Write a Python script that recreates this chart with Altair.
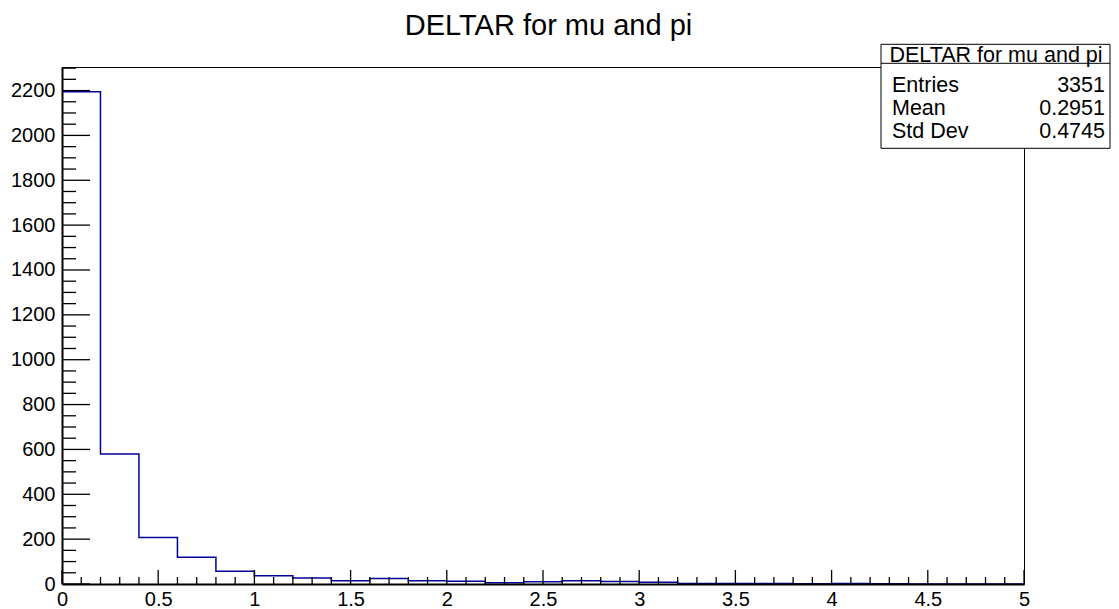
import altair as alt
import pandas as pd

FONT = "Liberation Sans"

title_text = "DELTAR for mu and pi"
bin_left_edges = [0.0, 0.2, 0.4, 0.6, 0.8, 1.0, 1.2, 1.4, 1.6, 1.8, 2.0, 2.2, 2.4,
                  2.6, 2.8, 3.0, 3.2, 3.4, 3.6, 3.8, 4.0, 4.2, 4.4, 4.6, 4.8]
x_max = 5.0
counts = [2195, 580, 207, 119, 57, 37, 27, 15, 24, 15, 12, 6, 10, 14, 11, 8,
          2, 2, 2, 1, 2, 1, 0, 0, 0]
y_max = 2305

stat_labels = ["Entries", "Mean", "Std Dev"]
stat_values = ["3351", "0.2951", "0.4745"]

y_major = [0, 200, 400, 600, 800, 1000, 1200, 1400, 1600, 1800, 2000, 2200]
y_minor = [v for v in range(50, 2301, 50) if v % 200 != 0]
x_major = [0, 0.5, 1, 1.5, 2, 2.5, 3, 3.5, 4, 4.5, 5]
x_minor = [round(i * 0.1, 1) for i in range(1, 50) if i % 5 != 0]

W, H = 962, 517

hist_df = pd.DataFrame({"x": bin_left_edges + [x_max], "y": counts + [counts[-1]]})

xscale = alt.Scale(domain=[0, x_max], nice=False, zero=False)
yscale = alt.Scale(domain=[0, y_max], nice=False)

xaxis = alt.Axis(
    values=x_major, format="~g", title=None, ticks=False, grid=False,
    labelFontSize=20, labelFont=FONT, labelColor="black", labelPadding=5,
    labelFlush=False, labelOverlap=False, domainColor="black", domainWidth=2,
    zindex=1)
yaxis = alt.Axis(
    values=y_major, format="d", title=None, ticks=False, grid=False,
    labelFontSize=20, labelFont=FONT, labelColor="black", labelPadding=7,
    labelOverlap=False, domainColor="black", domainWidth=2, zindex=1)

X = alt.X("x:Q", scale=xscale, axis=xaxis)
Y = alt.Y("y:Q", scale=yscale, axis=yaxis)

hist = alt.Chart(hist_df).mark_line(
    interpolate="step-after", color="#000099", strokeWidth=1.5
).encode(x=X, y=Y)

ymaj = alt.Chart(pd.DataFrame({"y": y_major})).mark_rule(color="black", strokeWidth=1.3).encode(
    y=Y, x=alt.value(0), x2=alt.value(28))
ymin = alt.Chart(pd.DataFrame({"y": y_minor})).mark_rule(color="black", strokeWidth=1.3).encode(
    y=Y, x=alt.value(0), x2=alt.value(14))
xmaj = alt.Chart(pd.DataFrame({"x": x_major})).mark_rule(color="black", strokeWidth=1.3).encode(
    x=X, y=alt.value(H), y2=alt.value(H - 14))
xmin = alt.Chart(pd.DataFrame({"x": x_minor})).mark_rule(color="black", strokeWidth=1.3).encode(
    x=X, y=alt.value(H), y2=alt.value(H - 7))

one = pd.DataFrame({"t": [title_text]})

title = alt.Chart(one).mark_text(
    align="center", baseline="alphabetic", fontSize=29, font=FONT, color="black"
).encode(text="t:N", x=alt.value(486.5), y=alt.value(-32.3))

BX0, BX1 = 819, 1048
box = alt.Chart(one).mark_rect(fill="white", stroke="black", strokeWidth=1).encode(
    x=alt.value(BX0), x2=alt.value(BX1), y=alt.value(-22.7), y2=alt.value(81.3))
divider = alt.Chart(one).mark_rule(color="black", strokeWidth=1).encode(
    x=alt.value(BX0), x2=alt.value(BX1), y=alt.value(-3.7))
box_title = alt.Chart(one).mark_text(
    align="center", baseline="alphabetic", fontSize=21.5, font=FONT, color="black"
).encode(text="t:N", x=alt.value(934), y=alt.value(-5.5))

row_baselines = [25, 48, 71]
stat_layers = []
for lab, val, yb in zip(stat_labels, stat_values, row_baselines):
    d = pd.DataFrame({"l": [lab], "v": [val]})
    stat_layers.append(alt.Chart(d).mark_text(
        align="left", baseline="alphabetic", fontSize=21.5, font=FONT, color="black"
    ).encode(text="l:N", x=alt.value(830), y=alt.value(yb)))
    stat_layers.append(alt.Chart(d).mark_text(
        align="right", baseline="alphabetic", fontSize=21.5, font=FONT, color="black"
    ).encode(text="v:N", x=alt.value(1043), y=alt.value(yb)))

chart = alt.layer(
    hist, ymaj, ymin, xmaj, xmin, title, box, divider, box_title, *stat_layers
).properties(
    width=W, height=H,
    autosize=alt.AutoSizeParams(type="none"),
    padding={"left": 54, "top": 59, "right": 87, "bottom": 24},
    background="white",
).configure_view(stroke="black", strokeWidth=1)

chart.save("out.html", embed_options={"renderer": "svg", "actions": False})
